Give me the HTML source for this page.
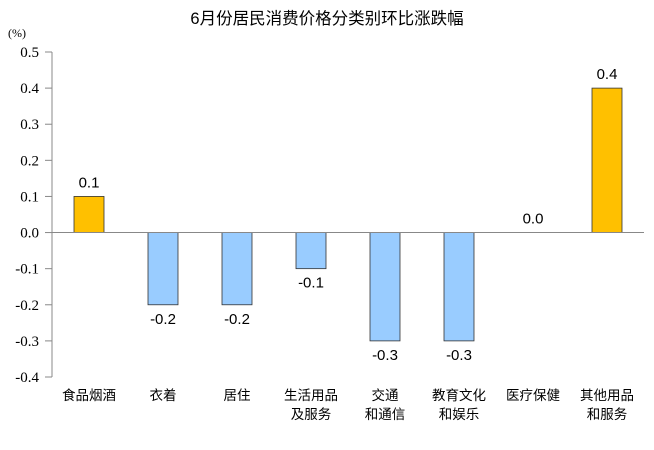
<!DOCTYPE html>
<html><head><meta charset="utf-8"><style>
body{margin:0;background:#fff}
svg text{font-family:"Liberation Sans","Noto Sans CJK SC",sans-serif}
svg text.serif-tick{font-family:"Liberation Serif",serif}
</style></head><body>
<svg width="654" height="445" id="c">
<text x="327" y="24" text-anchor="middle" font-size="16.5">6月份居民消费价格分类别环比涨跌幅</text>
<text x="8" y="37" font-size="12" class="serif-tick">(%)</text>
</svg>
<script>
const categories=[["食品烟酒"],["衣着"],["居住"],["生活用品","及服务"],["交通","和通信"],["教育文化","和娱乐"],["医疗保健"],["其他用品","和服务"]];
const values=[0.1,-0.2,-0.2,-0.1,-0.3,-0.3,0.0,0.4];
const valueLabels=["0.1","-0.2","-0.2","-0.1","-0.3","-0.3","0.0","0.4"];
const tickValues=[0.5,0.4,0.3,0.2,0.1,0.0,-0.1,-0.2,-0.3,-0.4];
const tickLabels=["0.5","0.4","0.3","0.2","0.1","0.0","-0.1","-0.2","-0.3","-0.4"];
const svg=document.getElementById('c');const NS='http://www.w3.org/2000/svg';
const x0=52,step=74,yTop=52,yBot=377,vMax=0.5,vMin=-0.4;
const y=v=>yTop+(vMax-v)/(vMax-vMin)*(yBot-yTop);
const xc=i=>x0+step*(i+0.5);
function mk(t,a){const e=document.createElementNS(NS,t);for(const k in a)e.setAttribute(k,a[k]);svg.appendChild(e);return e;}
const ax=mk('line',{x1:x0,x2:x0,y1:yTop,y2:yBot,stroke:'#888','stroke-width':1});


tickValues.forEach((v,i)=>{
 const t=mk('line',{x1:x0-7,x2:x0,y1:y(v),y2:y(v),stroke:'#888'});
 
 
 const l=mk('text',{x:x0-13,y:y(v)+5,'text-anchor':'end','font-size':15,'class':'serif-tick'});
 l.textContent=tickLabels[i];
 
 
});
values.forEach((v,i)=>{
 const orange=v>0;const top=Math.min(y(v),y(0));const h=Math.abs(y(v)-y(0));
 if(h>0){const b=mk('rect',{x:xc(i)-15,y:top,width:30,height:h,fill:orange?'#FFC000':'#99CCFF',stroke:'#333','stroke-width':0.8});
 
 }
 const l=mk('text',{x:xc(i),y:v>=0?y(v)-9:y(v)+19,'text-anchor':'middle','font-size':15});
 l.textContent=valueLabels[i];
 
 
 categories[i].forEach((s,j)=>{const c=mk('text',{x:xc(i),y:400+j*19,'text-anchor':'middle','font-size':13.5});c.textContent=s;
 
 });
});
const z=mk('line',{x1:x0,x2:x0+step*8,y1:y(0),y2:y(0),stroke:'#888'});


</script>
</body></html>
